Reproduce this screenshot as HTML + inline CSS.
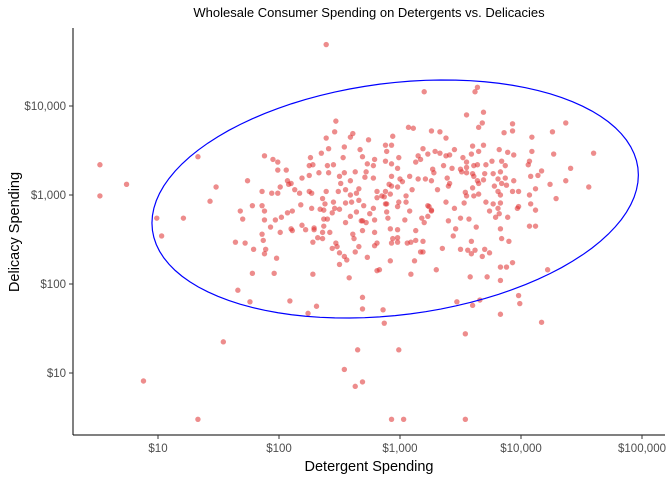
<!DOCTYPE html>
<html><head><meta charset="utf-8"><style>
body{margin:0;background:#fff;}
svg text{font-family:"Liberation Sans",sans-serif;}
</style></head><body>
<svg id="chart" width="672" height="480" xmlns="http://www.w3.org/2000/svg">
<rect width="672" height="480" fill="#fff"/>
<text x="369" y="17" text-anchor="middle" font-size="13" fill="#000">Wholesale Consumer Spending on Detergents vs. Delicacies</text>
<g id="points"></g>
<g id="ellipse"></g>
<line x1="73" y1="28" x2="73" y2="435" stroke="#000" stroke-width="1"/>
<line x1="73" y1="435" x2="665" y2="435" stroke="#000" stroke-width="1"/>
<g id="xticks"></g>
<g id="yticks"></g>
<text x="369" y="471" text-anchor="middle" font-size="14.5" fill="#000">Detergent Spending</text>
<text transform="translate(19,232) rotate(-90)" text-anchor="middle" font-size="14.5" fill="#000">Delicacy Spending</text>
</svg>
<script>
// log10 of spending values
const detergentLog = [0.52,0.52,0.74,0.99,1.03,1.21,1.33,1.43,1.48,0.88,1.33,1.54,1.66,1.76,2.39,2.69,2.65,2.54,2.63,2.93,3.03,2.99,3.54,3.54,2.86,2.87,3.47,3.60,3.66,3.83,3.98,3.99,4.17,4.22,2.09,2.31,2.24,2.69,2.69,1.78,1.96,2.28,2.58,1.74,1.88,1.95,1.99,2.47,2.46,2.39,2.59,2.61,2.74,2.41,2.54,2.35,2.26,2.53,2.67,2.69,2.73,1.86,1.94,1.99,2.01,1.99,2.06,2.07,2.10,2.19,2.25,2.33,2.40,2.45,2.25,2.28,2.41,2.50,2.54,2.59,2.51,2.63,2.72,2.71,2.66,2.55,2.49,2.39,2.25,2.27,2.17,2.13,2.08,1.78,1.86,1.88,1.68,1.70,1.88,1.97,2.02,2.07,2.11,2.18,2.27,2.34,2.37,2.38,2.45,2.46,2.50,2.55,2.60,2.59,2.64,2.66,2.70,2.64,2.68,2.72,2.75,2.55,2.40,2.44,2.36,2.37,2.19,2.29,1.93,2.10,2.01,2.11,2.22,2.28,2.29,2.32,2.36,2.36,2.37,2.42,2.44,2.47,2.48,2.50,2.54,2.56,2.50,2.61,2.62,2.63,2.66,2.73,2.69,2.69,2.59,1.64,1.72,1.79,1.86,1.87,1.89,1.88,1.98,3.20,3.64,3.62,3.55,3.69,3.68,3.65,3.93,3.93,3.86,4.09,4.26,4.37,4.27,4.60,4.41,4.56,4.37,4.24,4.29,4.09,4.07,4.06,4.17,4.14,4.08,4.12,4.07,4.08,4.12,3.07,3.11,3.26,3.33,3.38,2.94,2.88,2.93,2.89,3.19,3.29,3.33,3.45,3.41,3.38,3.23,3.15,3.13,3.17,3.60,3.69,3.65,3.59,3.52,3.55,3.82,3.89,3.94,3.76,3.84,3.87,3.71,3.64,3.61,3.55,3.50,3.36,3.43,3.27,3.28,3.08,3.15,3.21,3.26,3.39,3.41,3.40,3.51,3.55,3.60,3.61,3.70,3.69,3.64,3.65,3.77,3.81,3.83,3.87,3.84,3.88,3.94,3.78,3.81,3.83,3.93,3.98,3.60,3.65,3.61,3.55,3.54,3.71,3.77,3.83,3.81,3.74,3.82,3.89,3.97,3.98,3.53,3.45,3.38,3.31,3.23,3.26,3.18,3.08,3.10,3.05,3.05,2.99,2.98,3.02,3.00,2.98,2.93,2.91,2.88,2.87,2.92,2.85,2.81,2.81,2.89,2.88,2.89,2.90,2.79,3.04,2.78,2.79,2.78,2.88,2.93,2.99,2.93,2.98,3.40,3.57,3.50,3.46,3.63,4.07,4.12,2.78,3.23,3.24,3.26,3.20,3.79,3.83,3.84,3.90,2.79,2.92,2.98,2.94,2.93,2.98,2.98,2.81,2.79,3.06,3.09,3.13,3.13,3.19,3.17,3.19,3.12,3.09,2.92,2.81,2.83,3.30,3.35,3.50,3.56,3.59,3.62,3.59,3.70,3.74,3.68,3.83,3.88,3.93,3.58,3.72,3.83,3.44];
const delicacyLog = [3.34,2.99,3.12,2.74,2.54,2.74,3.43,2.93,3.09,0.91,0.48,1.35,1.93,1.80,4.69,0.90,1.26,1.04,0.85,0.48,0.48,1.26,0.48,1.44,1.71,1.56,1.80,1.76,1.82,1.66,1.87,1.78,1.57,2.16,1.81,1.75,1.67,1.85,1.72,2.12,2.12,2.11,2.07,3.16,3.44,3.40,3.37,3.83,3.71,3.64,3.65,3.69,3.62,3.52,3.54,3.47,3.42,3.42,3.51,3.43,3.35,3.04,3.02,3.02,3.09,3.28,3.28,3.16,3.13,3.19,3.22,3.25,3.33,3.34,3.33,3.34,3.25,3.21,3.25,3.16,3.13,3.26,3.26,3.20,3.07,3.06,3.04,3.04,3.04,3.02,3.02,3.06,3.12,2.88,2.88,2.82,2.82,2.73,2.72,2.72,2.75,2.80,2.82,2.89,2.85,2.84,2.83,2.90,2.92,2.85,2.84,2.91,2.92,3.00,3.02,2.94,2.88,2.81,2.71,2.69,2.79,2.69,2.73,2.80,2.96,2.73,2.66,2.63,2.64,2.62,2.58,2.60,2.61,2.47,2.61,2.52,2.51,2.58,2.65,2.58,2.40,2.46,2.42,2.35,2.31,2.27,2.22,2.56,2.51,2.36,2.42,2.30,2.60,2.71,2.76,2.47,2.46,2.39,2.56,2.49,2.39,2.34,2.29,4.16,4.21,4.16,3.90,3.93,3.81,3.76,3.80,3.72,3.70,3.65,3.71,3.81,3.46,3.47,3.30,3.09,3.16,3.12,2.96,3.49,3.38,3.34,3.27,3.22,3.21,3.07,3.00,2.90,2.83,3.76,3.75,3.72,3.71,3.64,3.66,3.56,3.56,3.49,3.52,3.49,3.47,3.51,3.45,3.44,3.46,3.44,3.37,3.40,3.55,3.56,3.49,3.46,3.42,3.37,3.51,3.48,3.45,3.38,3.38,3.33,3.34,3.34,3.33,3.31,3.29,3.33,3.30,3.29,3.25,3.21,3.18,3.18,3.16,3.19,3.13,3.10,3.26,3.25,3.24,3.21,3.24,3.17,3.16,3.13,3.24,3.18,3.26,3.19,3.13,3.11,3.16,3.10,3.04,3.00,3.04,3.04,3.08,3.01,2.99,2.99,3.03,2.92,2.90,2.91,2.85,2.82,2.79,2.75,2.85,2.87,2.91,2.85,2.92,3.06,2.88,2.83,2.74,2.82,3.06,2.99,2.92,2.92,2.87,3.15,3.18,3.09,3.10,3.12,3.04,2.98,3.01,2.99,2.97,3.04,2.90,2.90,2.81,2.74,2.72,2.72,3.33,3.40,3.19,3.38,3.35,3.42,3.21,3.30,2.71,2.73,2.74,2.62,2.64,2.65,2.65,2.85,2.76,2.87,2.82,2.69,2.75,2.62,2.51,2.48,2.58,2.62,2.61,2.51,2.46,2.47,2.52,2.46,2.43,2.46,2.47,2.60,2.49,2.48,2.36,2.36,2.26,2.11,2.26,2.15,2.16,2.16,2.40,2.39,2.38,2.34,2.38,2.48,2.39,2.35,2.31,2.19,2.19,2.24,2.08,2.08,2.04,2.54];
// ellipse: center and conjugate axes in log10 units
const ellipseCenter = [2.96, 2.955];
const ellipseAxisA = [2.01, 0.27];
const ellipseAxisB = [0.0, 1.31];
const xTickValues = [10, 100, 1000, 10000, 100000];
const xTickLabels = ["$10", "$100", "$1,000", "$10,000", "$100,000"];
const yTickValues = [10, 100, 1000, 10000];
const yTickLabels = ["$10", "$100", "$1,000", "$10,000"];

const NS = "http://www.w3.org/2000/svg";
function xScale(v){ return 158 + (Math.log10(v) - 1) * 121; }
function yScale(v){ return 373 - (Math.log10(v) - 1) * 89; }
function xLog(l){ return xScale(Math.pow(10, l)); }
function yLog(l){ return yScale(Math.pow(10, l)); }

const pts = document.getElementById('points');
for (let i = 0; i < detergentLog.length; i++) {
  const c = document.createElementNS(NS, 'circle');
  
  
  c.setAttribute('cx', xLog(detergentLog[i]));
  c.setAttribute('cy', yLog(delicacyLog[i]));
  c.setAttribute('r', 2.7);
  c.setAttribute('fill', 'rgb(222,45,45)');
  c.setAttribute('fill-opacity', '0.55');
  c.setAttribute('stroke', 'none');
  pts.appendChild(c);
}

let d = '';
for (let k = 0; k <= 100; k++) {
  const t = k / 100 * 2 * Math.PI;
  const lx = ellipseCenter[0] + ellipseAxisA[0] * Math.cos(t) + ellipseAxisB[0] * Math.sin(t);
  const ly = ellipseCenter[1] + ellipseAxisA[1] * Math.cos(t) + ellipseAxisB[1] * Math.sin(t);
  d += (k === 0 ? 'M' : 'L') + xLog(lx).toFixed(2) + ',' + yLog(ly).toFixed(2);
}
const ep = document.createElementNS(NS, 'path');


ep.setAttribute('d', d + 'Z');
ep.setAttribute('fill', 'none');
ep.setAttribute('stroke', '#0000ff');
ep.setAttribute('stroke-width', '1.2');
document.getElementById('ellipse').appendChild(ep);

const xt = document.getElementById('xticks');
xTickValues.forEach((v, i) => {
  const x = xScale(v);
  const l = document.createElementNS(NS, 'line');
  
  
  l.setAttribute('x1', x); l.setAttribute('x2', x);
  l.setAttribute('y1', 435); l.setAttribute('y2', 439);
  l.setAttribute('stroke', '#333');
  xt.appendChild(l);
  const t = document.createElementNS(NS, 'text');
  
  
  t.setAttribute('x', x); t.setAttribute('y', 452);
  t.setAttribute('text-anchor', 'middle');
  t.setAttribute('font-size', '11.5');
  t.setAttribute('fill', '#4d4d4d');
  t.textContent = xTickLabels[i];
  xt.appendChild(t);
});
const yt = document.getElementById('yticks');
yTickValues.forEach((v, i) => {
  const y = yScale(v);
  const l = document.createElementNS(NS, 'line');
  
  
  l.setAttribute('x1', 69); l.setAttribute('x2', 73);
  l.setAttribute('y1', y); l.setAttribute('y2', y);
  l.setAttribute('stroke', '#333');
  yt.appendChild(l);
  const t = document.createElementNS(NS, 'text');
  
  
  t.setAttribute('x', 66); t.setAttribute('y', y + 4);
  t.setAttribute('text-anchor', 'end');
  t.setAttribute('font-size', '11.5');
  t.setAttribute('fill', '#4d4d4d');
  t.textContent = yTickLabels[i];
  yt.appendChild(t);
});
</script>
</body></html>
